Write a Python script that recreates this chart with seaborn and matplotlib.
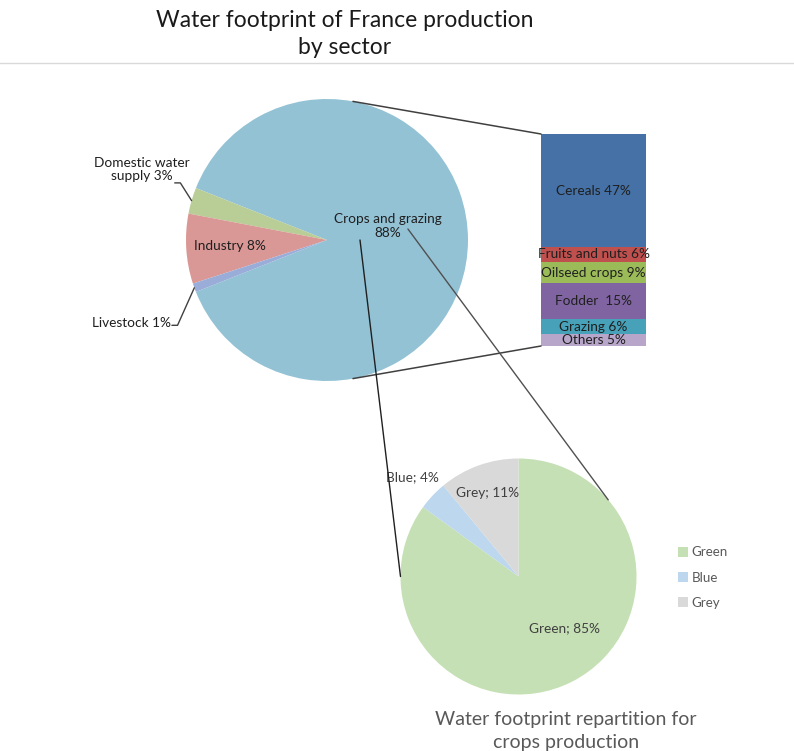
import numpy as np
import matplotlib
matplotlib.use("Agg")
import matplotlib.pyplot as plt
from matplotlib.patches import ConnectionPatch
import seaborn as sns

# Données - empreinte eau France
sectors = ["Crops and grazing", "Domestic water\nsupply", "Industry", "Livestock"]
sector_pct = [88, 3, 8, 1]
sector_colors = ["#93C2D5", "#B9CD96", "#D99795", "#9AADD8"]

crops = ["Cereals", "Fruits and nuts", "Oilseed crops", "Fodder ", "Grazing", "Others"]
crops_pct = [47, 6, 9, 15, 6, 5]
crops_colors = ["#4571A6", "#C0504D", "#9BBB59", "#8064A2", "#46A1B9", "#B7A6CA"]

water_types = ["Green", "Blue", "Grey"]
water_pct = [85, 4, 11]
water_colors = ["#C5E0B4", "#BDD7EE", "#D9D9D9"]

sns.set_theme(style="white")
plt.rcParams['font.family'] = ['Lato', 'DejaVu Sans']

W, H = 794, 751
fig = plt.figure(figsize=(W / 100, H / 100), dpi=100)
LBL = 9.8


def px_axes(cx, cy, half):
    # axes carré centré sur (cx, cy) en pixels image
    return fig.add_axes([(cx - half) / W, 1 - (cy + half) / H, 2 * half / W, 2 * half / H])


# fond + trait de séparation
bg = fig.add_axes([0, 0, 1, 1])
bg.set_xlim(0, W)
bg.set_ylim(H, 0)
bg.axis('off')
bg.plot([0, W], [63, 63], color="#D9D9D9", lw=1)

fig.text(345 / W, 1 - 34 / H, "Water footprint of France production\nby sector",
         ha='center', va='center', fontsize=16.5, color="#1A1A1A", linespacing=1.38)
fig.text(566 / W, 1 - 731 / H, "Water footprint repartition for\ncrops production",
         ha='center', va='center', fontsize=14, color="#595959", linespacing=1.4)

# camembert principal
R1 = 141
ax1 = px_axes(327, 240, 1.3 * R1)
start = -sector_pct[0] / 100 * 180
wedges1, _ = ax1.pie(sector_pct, colors=sector_colors, startangle=start,
                     counterclock=True, radius=1, wedgeprops=dict(linewidth=0))
ax1.set_xlim(-1.3, 1.3)
ax1.set_ylim(-1.3, 1.3)
ax1.set_aspect('equal')
ax1.patch.set_alpha(0)

ax1.text(0.43, 0.10, f"Crops and grazing\n{sector_pct[0]}%", ha='center', va='center',
         fontsize=LBL, color="#1F1F1F", linespacing=1.2)
ax1.text(-0.69, -0.04, f"Industry {sector_pct[2]}%", ha='center', va='center',
         fontsize=LBL, color="#1F1F1F")


def mid_point(w):
    a = np.deg2rad((w.theta1 + w.theta2) / 2)
    return np.cos(a), np.sin(a)


# étiquettes externes avec traits de rappel
mx, my = mid_point(wedges1[1])
ax1.text(-1.31, 0.50, f"{sectors[1]} {sector_pct[1]}%", ha='center', va='center',
         fontsize=LBL, color="#1F1F1F", linespacing=1.15)
ax1.plot([-1.08, -1.04, mx], [0.405, 0.405, my], color="#404040", lw=1, clip_on=False)

mx, my = mid_point(wedges1[3])
ax1.text(-1.39, -0.59, f"{sectors[3]} {sector_pct[3]}%", ha='center', va='center',
         fontsize=LBL, color="#1F1F1F")
ax1.plot([-1.10, -1.06, mx], [-0.605, -0.605, my], color="#404040", lw=1, clip_on=False)

# barre empilée des cultures
axb = fig.add_axes([541 / W, 1 - 346 / H, 105 / W, 212 / H])
cum = np.cumsum(crops_pct[::-1])[::-1]
for name, c, col in zip(crops, cum, crops_colors):
    sns.barplot(x=["crops"], y=[c], color=col, width=1, saturation=1, ax=axb,
                linewidth=0, edgecolor="none")
for name, c, v in zip(crops, cum, crops_pct):
    axb.text(0, c - v / 2, f"{name} {v}%", ha='center', va='center',
             fontsize=LBL, color="#1F1F1F")
axb.set_xlim(-0.5, 0.5)
axb.set_ylim(0, sum(crops_pct))
axb.axis('off')

# camembert bas
R2 = 118
ax2 = px_axes(518.5, 576.5, 1.3 * R2)
wedges2, _ = ax2.pie(water_pct, colors=water_colors, startangle=90,
                     counterclock=False, radius=1, wedgeprops=dict(linewidth=0))
ax2.set_xlim(-1.3, 1.3)
ax2.set_ylim(-1.3, 1.3)
ax2.set_aspect('equal')
ax2.patch.set_alpha(0)
for (x, y), name, v in zip([(0.39, -0.44), (-0.90, 0.84), (-0.26, 0.71)], water_types, water_pct):
    ax2.text(x, y, f"{name}; {v}%", ha='center', va='center', fontsize=LBL, color="#404040")

fig.legend(wedges2, water_types, loc='upper left', bbox_to_anchor=(673 / W, 1 - 541 / H),
           frameon=False, fontsize=9.6, labelcolor="#595959", handlelength=0.75,
           handleheight=0.75, handletextpad=0.25, labelspacing=1.0, borderaxespad=0)

# traits de liaison
a = np.deg2rad(79.4)
for yA, yB in [(np.sin(a), sum(crops_pct)), (-np.sin(a), 0)]:
    fig.add_artist(ConnectionPatch(xyA=(np.cos(a), yA), coordsA=ax1.transData,
                                   xyB=(-0.5, yB), coordsB=axb.transData,
                                   color="#404040", lw=1.1))
fig.add_artist(ConnectionPatch(xyA=(0.234, 0.0), coordsA=ax1.transData,
                               xyB=(-1.0, 0.0), coordsB=ax2.transData,
                               color="#202020", lw=1))
b = np.deg2rad(40.5)
fig.add_artist(ConnectionPatch(xyA=(0.574, 0.078), coordsA=ax1.transData,
                               xyB=(np.cos(b), np.sin(b)), coordsB=ax2.transData,
                               color="#505050", lw=1))

fig.savefig("out.png", dpi=100)
